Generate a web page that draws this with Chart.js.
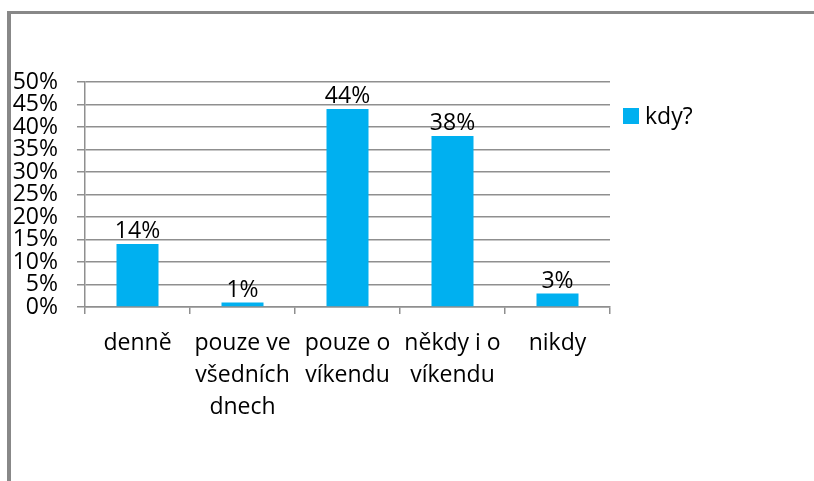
<!DOCTYPE html>
<html>
<head>
<meta charset="utf-8">
<script src="https://cdn.jsdelivr.net/npm/chart.js@4"></script>
<style>
  html, body { margin: 0; padding: 0; background: #fff; }
  #wrap { position: relative; width: 814px; height: 481px; }
  #frame { position: absolute; left: 7px; top: 11px; right: 0; bottom: 0;
           border-top: 3px solid #888; border-left: 4px solid #888; }
  canvas { position: absolute; left: 0; top: 0; }
</style>
</head>
<body>
<div id="wrap">
  <div id="frame"></div>
  <canvas id="chart" width="814" height="481"></canvas>
</div>
<script>
// data
const categories = [["denně"], ["pouze ve", "všedních", "dnech"], ["pouze o", "víkendu"], ["někdy i o", "víkendu"], ["nikdy"]];
const values = [14, 1, 44, 38, 3];
const seriesName = "kdy?";
const yTicks = [0, 5, 10, 15, 20, 25, 30, 35, 40, 45, 50];

const FONT = "'Open Sans', sans-serif";
const FONT_SIZE = 23;
const BAR_COLOR = "#00B0F0";

// value labels above bars + legend to the right
const labelsPlugin = {
  id: "labelsPlugin",
  afterDatasetsDraw(chart) {
    const ctx = chart.ctx;
    const meta = chart.getDatasetMeta(0);
    ctx.save();
    ctx.font = FONT_SIZE + "px " + FONT;
    ctx.fillStyle = "#000";
    ctx.textAlign = "center";
    ctx.textBaseline = "alphabetic";
    meta.data.forEach((bar, i) => {
      ctx.fillText(values[i] + "%", bar.x, bar.y - 6);
    });

    // legend
    ctx.fillStyle = BAR_COLOR;
    ctx.fillRect(623, 108, 16, 16);
    ctx.fillStyle = "#000";
    ctx.textAlign = "left";
    ctx.textBaseline = "middle";
    ctx.fillText(chart.data.datasets[0].label, 645, 117);
    ctx.restore();
  }
};

const ctx = document.getElementById("chart").getContext("2d");
new Chart(ctx, {
  type: "bar",
  data: {
    labels: categories,
    datasets: [{
      label: seriesName,
      data: values,
      backgroundColor: BAR_COLOR,
      borderWidth: 0,
      categoryPercentage: 1,
      barPercentage: 0.4
    }]
  },
  options: {
    responsive: false,
    animation: false,
    layout: { padding: { top: 82, right: 204, left: 0, bottom: 0 } },
    plugins: {
      legend: { display: false },
      tooltip: { enabled: false }
    },
    scales: {
      x: {
        offset: true,
        grid: {
          offset: true,
          drawOnChartArea: false,
          drawTicks: true,
          tickLength: 7,
          color: "#8f8f8f",
          lineWidth: 1.5
        },
        border: { display: true, color: "#8f8f8f", width: 1.5 },
        ticks: {
          color: "#000",
          font: { family: FONT, size: FONT_SIZE, lineHeight: 1.4 },
          padding: 13,
          maxRotation: 0,
          autoSkip: false
        },
        afterFit(scale) { scale.height = 174; }
      },
      y: {
        min: 0,
        max: 50,
        afterBuildTicks(scale) { scale.ticks = yTicks.map(v => ({ value: v })); },
        grid: {
          color: "#8f8f8f",
          lineWidth: 1.5,
          tickLength: 8
        },
        border: { display: true, color: "#8f8f8f", width: 1.5 },
        ticks: {
          color: "#000",
          font: { family: FONT, size: FONT_SIZE, lineHeight: 1 },
          padding: 19,
          autoSkip: false,
          callback: v => v + "%"
        },
        afterFit(scale) { scale.width = 85; }
      }
    }
  },
  plugins: [labelsPlugin]
});
</script>
</body>
</html>
